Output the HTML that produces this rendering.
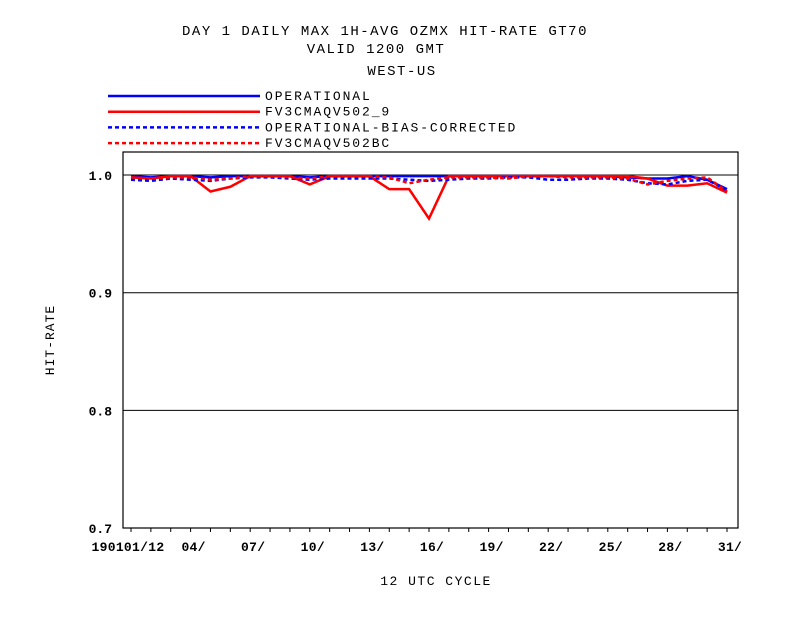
<!DOCTYPE html>
<html><head><meta charset="utf-8"><style>
body{margin:0;background:#fff;}
svg text{font-family:"Liberation Mono",monospace;font-size:13px;fill:#000;}
</style></head><body>
<svg id="chart" width="792" height="612" xmlns="http://www.w3.org/2000/svg">
<rect width="792" height="612" fill="#fff"/>
<text x="385" y="35" text-anchor="middle" style="font-size:14px;letter-spacing:1.5px">DAY 1 DAILY MAX   1H-AVG OZMX HIT-RATE GT70</text>
<text x="376" y="53" text-anchor="middle" style="font-size:14px;letter-spacing:1.5px">VALID 1200 GMT</text>
<text x="402" y="75" text-anchor="middle" style="font-size:14px;letter-spacing:1.5px">WEST-US</text>
<g id="legend"></g>
<g id="grid"></g>
<g id="series"></g>
<g id="axes"></g>
<text x="436" y="585" text-anchor="middle" style="letter-spacing:1.5px">12 UTC CYCLE</text>
<text transform="translate(54,340) rotate(-90)" text-anchor="middle" style="letter-spacing:1px">HIT-RATE</text>
</svg>
<script>
const days=[1,2,3,4,5,6,7,8,9,10,11,12,13,14,15,16,17,18,19,20,21,22,23,24,25,26,27,28,29,30,31];
const operational=[0.999,0.998,0.999,0.999,0.998,0.999,0.999,0.999,0.999,0.998,0.999,0.999,0.999,0.999,0.999,0.999,0.999,0.999,0.999,0.999,0.999,0.999,0.999,0.999,0.999,0.998,0.997,0.997,0.999,0.996,0.988];
const fv3=[0.998,0.997,0.999,0.999,0.986,0.990,0.999,0.999,0.999,0.992,0.999,0.999,0.999,0.988,0.988,0.963,0.999,0.999,0.999,0.999,0.999,0.999,0.999,0.999,0.999,0.999,0.997,0.991,0.991,0.993,0.985];
const opBC=[0.996,0.995,0.997,0.996,0.995,0.997,0.998,0.998,0.997,0.996,0.997,0.997,0.997,0.997,0.996,0.995,0.996,0.997,0.997,0.998,0.998,0.996,0.996,0.997,0.997,0.996,0.993,0.992,0.995,0.996,0.987];
const fv3BC=[0.998,0.997,0.998,0.998,0.996,0.997,0.999,0.999,0.998,0.997,0.999,0.999,0.999,0.998,0.993,0.996,0.998,0.998,0.998,0.997,0.999,0.999,0.998,0.998,0.998,0.997,0.992,0.995,0.997,0.998,0.986];
const yTicks=[0.7,0.8,0.9,1.0];
const xTickDays=[1,4,7,10,13,16,19,22,25,28,31];
const xTickLabels=["190101/12","04/","07/","10/","13/","16/","19/","22/","25/","28/","31/"];
const NS="http://www.w3.org/2000/svg";
const X=d=>131+(d-1)*(596/30);
const Y=v=>175+(1-v)*1177;
function mk(p,tag,at){const e=document.createElementNS(NS,tag);for(const k in at)e.setAttribute(k,at[k]);document.getElementById(p).appendChild(e);return e;}
let e=mk('axes','rect',{x:123,y:152,width:615,height:376,fill:'none',stroke:'#000','stroke-width':1.2});


yTicks.forEach(v=>{
  if(v>0.7){let g=mk('grid','line',{x1:123,x2:738,y1:Y(v),y2:Y(v),stroke:'#000','stroke-width':1});
  
  }
  let t=mk('axes','text',{x:112,y:Y(v)+5,'text-anchor':'end','font-weight':'bold'});t.textContent=v.toFixed(1);
  
  
});
for(let d=1;d<=31;d++){let l=mk('axes','line',{x1:X(d),x2:X(d),y1:528,y2:532,stroke:'#000'});
  
  }
xTickDays.forEach((d,i)=>{let t=mk('axes','text',{x:i==0?X(d)-3:X(d)+3,y:551,'text-anchor':'middle','font-weight':'bold','style':'letter-spacing:0.3px'});t.textContent=xTickLabels[i];
  
  });
const series=[
 {name:'OPERATIONAL',data:operational,color:'#0000ff',dash:''},
 {name:'FV3CMAQV502_9',data:fv3,color:'#ff0000',dash:''},
 {name:'OPERATIONAL-BIAS-CORRECTED',data:opBC,color:'#0000ff',dash:'4,3'},
 {name:'FV3CMAQV502BC',data:fv3BC,color:'#ff0000',dash:'4,3'}];
series.forEach((s,i)=>{
  let p=mk('series','polyline',{points:s.data.map((v,j)=>X(days[j])+','+Y(v)).join(' '),fill:'none',stroke:s.color,'stroke-width':2.5,'stroke-dasharray':s.dash});
  
  
  let ly=96+i*15.7;
  let l=mk('legend','line',{x1:108,x2:260,y1:ly,y2:ly,stroke:s.color,'stroke-width':2.5,'stroke-dasharray':s.dash});
  
  
  let t=mk('legend','text',{x:265,y:ly+4,'font-size':'11px','style':'letter-spacing:1.9px'});t.textContent=s.name;
  
  
});
</script>
</body></html>
